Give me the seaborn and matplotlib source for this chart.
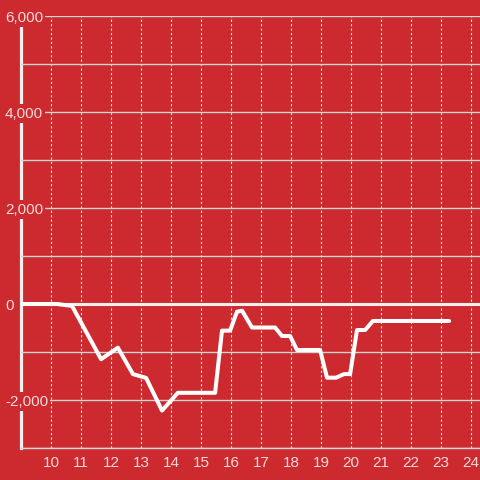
import matplotlib
matplotlib.use("Agg")
import matplotlib.pyplot as plt
import seaborn as sns
import pandas as pd

# hour of day vs running total
hours = [9.0, 10.2, 10.7, 11.67, 12.23, 12.73, 13.17, 13.7, 14.23, 15.47, 15.7, 15.97,
         16.2, 16.37, 16.7, 17.47, 17.7, 17.97, 18.2, 18.97, 19.2, 19.5, 19.77, 19.97,
         20.2, 20.47, 20.73, 23.27]
values = [0, 0, -40, -1150, -910, -1460, -1540, -2220, -1850, -1850, -555, -555,
          -160, -140, -490, -490, -667, -667, -958, -958, -1535, -1535, -1460, -1460,
          -542, -542, -354, -354]
x_ticks = list(range(10, 25))
y_ticks = [-2000, 0, 2000, 4000, 6000]
y_minor = [-3000, -1000, 1000, 3000, 5000]

BG = "#cc2a2e"
TXT = "#f3dada"

sns.set_theme(style="white")
plt.rcParams["font.family"] = ["Liberation Sans", "DejaVu Sans"]

df = pd.DataFrame({"hour": hours, "value": values})

fig = plt.figure(figsize=(4.8, 4.8), dpi=100, facecolor=BG)
ax = fig.add_axes([21 / 480, 32 / 480, 459 / 480, 432 / 480])
ax.set_facecolor(BG)

sns.lineplot(data=df, x="hour", y="value", ax=ax, color="white", linewidth=2.9,
             zorder=4)
ax.axhline(0, color="#f4eeee", linewidth=2.2, zorder=3.5)

ax.set_xlim(9, 24.3)
ax.set_ylim(-3000, 6000)
ax.set_xticks(x_ticks)
ax.set_xticklabels([str(t) for t in x_ticks])
ax.set_yticks(y_ticks)
ax.set_yticks(y_minor, minor=True)
ax.set_yticklabels([f"{v:,}" for v in y_ticks])
ax.set_xlabel("")
ax.set_ylabel("")

ax.grid(axis="y", which="both", color="#d4d4d4", linewidth=1.0, linestyle="-")
ax.grid(axis="x", color="#f0e6e6", linewidth=0.8, linestyle=(0, (2, 2)))

ax.tick_params(axis="both", which="both", length=0, labelsize=11, colors=TXT)
ax.tick_params(axis="x", pad=6)
ax.tick_params(axis="y", pad=11.5)
for lbl in ax.get_yticklabels():
    lbl.set_horizontalalignment("left")
    lbl.set_bbox(dict(facecolor=BG, edgecolor="none", pad=1.5))

for side in ("top", "right"):
    ax.spines[side].set_visible(False)
ax.spines["left"].set_color("#f4eeee")
ax.spines["left"].set_linewidth(2.3)
ax.spines["bottom"].set_color("#d8d8d8")
ax.spines["bottom"].set_linewidth(1.0)

# labels above the spine so their boxes cut it
ax.yaxis.set_zorder(3)

fig.savefig("out.png", dpi=100, facecolor=BG)
